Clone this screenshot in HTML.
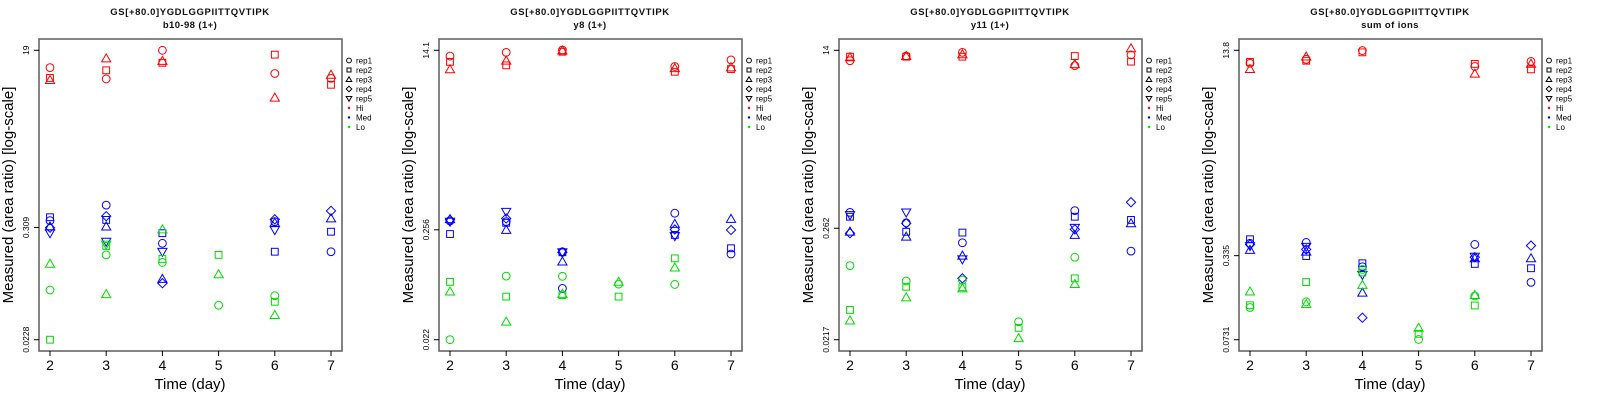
<!DOCTYPE html>
<html><head><meta charset="utf-8">
<style>
html,body{margin:0;padding:0;background:#fff;}
svg{display:block;font-family:"Liberation Sans",sans-serif;}
</style></head>
<body>
<svg id="chart" width="1600" height="400" viewBox="0 0 1600 400"></svg>
<script>
// ---------- data (y values are log10 of measured area ratio) ----------
const dayTicks = [2,3,4,5,6,7];
const panelSubtitles = ["b10-98 (1+)","y8 (1+)","y11 (1+)","sum of ions"];
const yTickLabels = [["0.0228","0.309","19"],["0.022","0.256","14.1"],["0.0217","0.262","14"],["0.0731","0.335","13.8"]];
const yTickLogs = [[-1.642,-0.510,1.279],[-1.658,-0.592,1.149],[-1.664,-0.582,1.146],[-1.136,-0.475,1.140]];
const legendLabels = ["rep1","rep2","rep3","rep4","rep5","Hi","Med","Lo"];

const p1Days=[2,2,2,3,3,3,4,4,4,6,6,6,7,7,7, 2,2,2,2,2,3,3,3,3,3,4,4,4,4,4,6,6,6,6,6,7,7,7,7, 2,2,2,3,3,3,3,4,4,4,5,5,5,6,6,6];
const p1Reps=["c","s","t","t","s","c","c","s","t","s","c","t","t","c","s", "s","c","d","t","v","c","d","s","t","v","s","c","v","t","d","d","c","t","v","s","d","t","s","c", "t","c","s","v","s","c","t","t","s","c","s","t","c","c","s","t"];
const p1Groups=["H","H","H","H","H","H","H","H","H","H","H","H","H","H","H", "M","M","M","M","M","M","M","M","M","M","M","M","M","M","M","M","M","M","M","M","M","M","M","M", "L","L","L","L","L","L","L","L","L","L","L","L","L","L","L","L"];
const p1Log=[1.104,1.000,0.978,1.197,1.077,0.990,1.279,1.153,1.171,1.235,1.045,0.800,1.031,0.996,0.931, -0.406,-0.441,-0.512,-0.500,-0.567,-0.284,-0.395,-0.433,-0.500,-0.652,-0.567,-0.669,-0.754,-1.029,-1.072,-0.427,-0.450,-0.462,-0.535,-0.754,-0.342,-0.418,-0.552,-0.754, -0.877,-1.140,-1.642,-0.681,-0.696,-0.786,-1.183,-0.529,-0.827,-0.862,-0.786,-0.982,-1.294,-1.198,-1.259,-1.394];

const p2Days=[2,2,2,3,3,3,4,4,4,6,6,6,7,7,7, 2,2,2,2,2,3,3,3,3,3,4,4,4,4,4,4,6,6,6,6,6,7,7,7,7, 2,2,2,3,3,3,4,4,4,5,5,5,6,6,6];
const p2Reps=["c","s","t","c","t","s","c","s","t","c","t","s","c","t","s", "d","t","c","v","s","v","d","c","s","t","c","v","s","t","d","c","c","t","d","s","v","t","d","s","c", "s","t","c","c","s","t","c","s","t","t","c","s","s","t","c"];
const p2Groups=["H","H","H","H","H","H","H","H","H","H","H","H","H","H","H", "M","M","M","M","M","M","M","M","M","M","M","M","M","M","M","M","M","M","M","M","M","M","M","M","M", "L","L","L","L","L","L","L","L","L","L","L","L","L","L","L"];
const p2Log=[1.093,1.037,0.964,1.129,1.048,1.003,1.152,1.135,1.146,0.992,0.975,0.941,1.056,0.983,0.967, -0.496,-0.490,-0.507,-0.513,-0.633,-0.417,-0.482,-0.513,-0.524,-0.594,-0.805,-0.810,-0.810,-0.900,-0.810,-1.161,-0.431,-0.535,-0.589,-0.642,-0.653,-0.487,-0.594,-0.771,-0.827, -1.097,-1.192,-1.658,-1.041,-1.240,-1.484,-1.043,-1.226,-1.215,-1.097,-1.119,-1.240,-0.869,-0.959,-1.122];

const p3Days=[2,2,2,3,3,3,4,4,4,6,6,6,7,7,7, 2,2,2,2,2,3,3,3,3,3,4,4,4,4,4,6,6,6,6,6,7,7,7,7, 2,2,2,3,3,3,4,4,4,5,5,5,6,6,6];
const p3Reps=["s","t","c","c","s","t","c","t","s","s","t","c","t","c","s", "c","s","v","t","d","v","c","d","s","t","s","c","t","v","d","c","s","v","d","t","d","s","t","c", "c","s","t","c","s","t","c","s","t","c","s","t","c","s","t"];
const p3Groups=["H","H","H","H","H","H","H","H","H","H","H","H","H","H","H", "M","M","M","M","M","M","M","M","M","M","M","M","M","M","M","M","M","M","M","M","M","M","M","M", "L","L","L","L","L","L","L","L","L","L","L","L","L","L","L"];
const p3Log=[1.084,1.078,1.045,1.090,1.084,1.090,1.126,1.107,1.084,1.090,1.011,0.997,1.165,1.101,1.036, -0.428,-0.470,-0.453,-0.616,-0.630,-0.428,-0.529,-0.534,-0.616,-0.664,-0.624,-0.723,-0.849,-0.883,-1.068,-0.411,-0.470,-0.577,-0.593,-0.647,-0.329,-0.501,-0.534,-0.804, -0.945,-1.375,-1.479,-1.094,-1.150,-1.254,-1.085,-1.155,-1.167,-1.490,-1.549,-1.650,-0.863,-1.068,-1.124];

const p4Days=[2,2,2,3,3,3,4,4,6,6,6,7,7,7, 2,2,2,2,2,3,3,3,3,3,4,4,4,4,4,6,6,6,6,6,7,7,7,7, 2,2,2,3,3,3,4,4,4,5,5,5,6,6,6];
const p4Reps=["c","s","t","c","s","t","c","s","s","c","t","c","t","s", "s","c","d","v","t","c","s","d","v","t","s","c","v","t","d","c","s","v","d","t","d","t","s","c", "t","s","c","s","c","t","c","s","t","t","s","c","t","c","s"];
const p4Groups=["H","H","H","H","H","H","H","H","H","H","H","H","H","H", "M","M","M","M","M","M","M","M","M","M","M","M","M","M","M","M","M","M","M","M","M","M","M","M", "L","L","L","L","L","L","L","L","L","L","L","L","L","L","L"];
const p4Log=[1.038,1.049,0.992,1.069,1.058,1.090,1.138,1.124,1.033,1.013,0.956,1.053,1.033,0.990, -0.346,-0.378,-0.387,-0.399,-0.430,-0.371,-0.478,-0.426,-0.405,-0.444,-0.535,-0.562,-0.626,-0.767,-0.963,-0.387,-0.540,-0.483,-0.487,-0.496,-0.396,-0.496,-0.574,-0.685, -0.758,-0.865,-0.883,-0.683,-0.838,-0.856,-0.583,-0.608,-0.706,-1.043,-1.090,-1.134,-0.785,-0.792,-0.867];

const panelsDays=[p1Days,p2Days,p3Days,p4Days];
const panelsReps=[p1Reps,p2Reps,p3Reps,p4Reps];
const panelsGroups=[p1Groups,p2Groups,p3Groups,p4Groups];
const panelsLog=[p1Log,p2Log,p3Log,p4Log];

// ---------- drawing ----------
const NS="http://www.w3.org/2000/svg";
const svg=document.getElementById("chart");
const colors={H:"#ff0000",M:"#0000ff",L:"#00dd00"};
function mk(tag,attrs,parent){const e=document.createElementNS(NS,tag);for(const k in attrs)e.setAttribute(k,attrs[k]);(parent||svg).appendChild(e);return e;}

function marker(g,shape,cx,cy,col){
  let e;
  const st={fill:"none",stroke:col,"stroke-width":1};
  if(shape==="c"){e=mk("circle",Object.assign({cx:cx,cy:cy,r:3.9},st),g);}
  else if(shape==="s"){e=mk("rect",Object.assign({x:cx-3.4,y:cy-3.4,width:6.8,height:6.8},st),g);}
  else if(shape==="t"){e=mk("polygon",Object.assign({points:`${cx},${cy-4.6} ${cx-4.6},${cy+3.4} ${cx+4.6},${cy+3.4}`},st),g);}
  else if(shape==="v"){e=mk("polygon",Object.assign({points:`${cx},${cy+4.6} ${cx-4.6},${cy-3.4} ${cx+4.6},${cy-3.4}`},st),g);}
  else {e=mk("polygon",Object.assign({points:`${cx},${cy-4.6} ${cx+4.6},${cy} ${cx},${cy+4.6} ${cx-4.6},${cy}`},st),g);}
  return e;
}

for(let p=0;p<4;p++){
  const ox=p*400;
  const g=mk("g",{transform:`translate(${ox},0)`});
  
  
  const xL=50, xR=331, yTop=50.3, yBot=339.7;
  const lo=yTickLogs[p][0], hi=yTickLogs[p][2];
  const xs=d=>xL+(d-2)*(xR-xL)/5;
  const ys=v=>yBot-(v-lo)/(hi-lo)*(yBot-yTop);

  const t1=mk("text",{x:190,y:15,"text-anchor":"middle","font-size":"9.5","font-weight":"bold","letter-spacing":"0.6",fill:"#111"},g);
  t1.textContent="GS[+80.0]YGDLGGPIITTQVTIPK";
  
  
  const t2=mk("text",{x:190,y:28,"text-anchor":"middle","font-size":"9.5","font-weight":"bold","letter-spacing":"0.4",fill:"#111"},g);
  t2.textContent=panelSubtitles[p];
  
  

  const box=mk("rect",{x:39,y:39,width:303,height:312,fill:"none",stroke:"#666","stroke-width":1.6},g);
  
  

  // x axis
  dayTicks.forEach(d=>{
    const tk=mk("line",{x1:xs(d),x2:xs(d),y1:351,y2:356,stroke:"#000","stroke-width":1},g);
    
    
    const tl=mk("text",{x:xs(d),y:370,"text-anchor":"middle","font-size":"14",fill:"#000"},g);
    tl.textContent=String(d);
    
    
  });
  const xt=mk("text",{x:190,y:389,"text-anchor":"middle","font-size":"15",fill:"#000"},g);
  xt.textContent="Time (day)";
  
  

  // y axis
  yTickLogs[p].forEach((v,i)=>{
    const y=ys(v);
    const tk=mk("line",{x1:34,x2:39,y1:y,y2:y,stroke:"#000","stroke-width":1},g);
    
    
    const tl=mk("text",{x:0,y:0,"text-anchor":"middle","font-size":"8.5",fill:"#000",transform:`translate(29,${y}) rotate(-90)`},g);
    tl.textContent=yTickLabels[p][i];
    
    
  });
  const yt=mk("text",{x:0,y:0,"text-anchor":"middle","font-size":"15",fill:"#000",transform:"translate(13,195) rotate(-90)"},g);
  yt.textContent="Measured (area ratio) [log-scale]";
  
  

  // points
  const days=panelsDays[p], reps=panelsReps[p], grps=panelsGroups[p], vals=panelsLog[p];
  for(let i=0;i<vals.length;i++){
    const m=marker(g,reps[i],xs(days[i]),ys(vals[i]),colors[grps[i]]);
    
    
  }

  // legend
  const shapes=["c","s","t","d","v"];
  legendLabels.forEach((lab,i)=>{
    const y=60.5+i*9.5;
    let sym;
    if(i<5){
      const s=shapes[i];const cx=349,cy=y;
      if(s==="c")sym=mk("circle",{cx:cx,cy:cy,r:2.4,fill:"none",stroke:"#000","stroke-width":1},g);
      else if(s==="s")sym=mk("rect",{x:cx-2,y:cy-2,width:4,height:4,fill:"none",stroke:"#000","stroke-width":1},g);
      else if(s==="t")sym=mk("polygon",{points:`${cx},${cy-2.8} ${cx-2.8},${cy+2} ${cx+2.8},${cy+2}`,fill:"none",stroke:"#000","stroke-width":1},g);
      else if(s==="d")sym=mk("polygon",{points:`${cx},${cy-2.8} ${cx+2.8},${cy} ${cx},${cy+2.8} ${cx-2.8},${cy}`,fill:"none",stroke:"#000","stroke-width":1},g);
      else sym=mk("polygon",{points:`${cx},${cy+2.8} ${cx-2.8},${cy-2} ${cx+2.8},${cy-2}`,fill:"none",stroke:"#000","stroke-width":1},g);
    } else {
      sym=mk("circle",{cx:349,cy:y,r:1.2,fill:[colors.H,colors.M,colors.L][i-5]},g);
    }
    
    
    const tx=mk("text",{x:356,y:y+3,"font-size":"8",fill:"#000"},g);
    tx.textContent=lab;
    
    
  });
}
</script>
</body></html>
